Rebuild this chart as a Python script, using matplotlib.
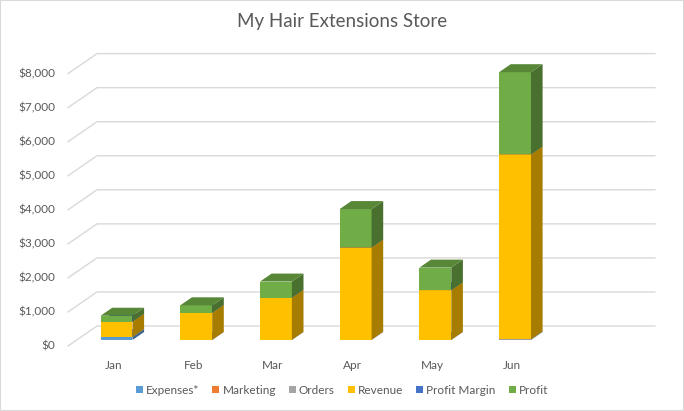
import numpy as np
import matplotlib.pyplot as plt
from matplotlib.patches import Polygon, Rectangle, Patch
from matplotlib.colors import to_rgb

plt.rcParams['font.family'] = ['Lato', 'DejaVu Sans']

months = ["Jan", "Feb", "Mar", "Apr", "May", "Jun"]
expenses = [85, 0, 0, 0, 0, 0]
marketing = [0, 0, 0, 0, 0, 0]
orders = [3, 4, 6, 10, 6, 25]
revenue = [455, 800, 1240, 2710, 1460, 5430]
profit_margin = [0.2, 0.2, 0.3, 0.3, 0.3, 0.3]
profit = [170, 215, 470, 1125, 660, 2410]

series_names = ["Expenses*", "Marketing", "Orders", "Revenue", "Profit Margin", "Profit"]
series_vals = [expenses, marketing, orders, revenue, profit_margin, profit]
colors = ["#5B9BD5", "#ED7D31", "#A5A5A5", "#FFC000", "#4472C4", "#70AD47"]
yticks = np.arange(0, 8001, 1000)

n_slots = 7          # excel leaves one empty slot on the right
DX, DY = 0.364, 587  # floor depth (category units, dollars)
F0, BD = 0.3, 0.4    # bar starts 30% into the floor, 40% deep
W = 0.40
txt = "#595959"
grid = "#d9d9d9"


def shade(c, f):
    return tuple(v * f for v in to_rgb(c))


fig = plt.figure(figsize=(6.84, 4.11), dpi=100)
ax = fig.add_axes([0, 0, 1, 1])
ax.set_xlim(-68 / 79.7, (684 - 68) / 79.7)
ax.set_ylim(-(411 - 346) / 0.03405, 346 / 0.03405)
ax.axis("off")

# walls
for v in yticks:
    ax.plot([0, DX, DX + n_slots], [v, v + DY, v + DY], color=grid, lw=1, zorder=0)
    ax.text(-0.163, v, "${:,}".format(v), ha="right", va="center", fontsize=8.5, color=txt)

# 3d-ish stacked columns
for i, m in enumerate(months):
    base = 0
    for vals, c in zip(series_vals, colors):
        v = vals[i]
        if v <= 0:
            continue
        x0 = i + 0.5 - W / 2 + F0 * DX
        y0 = F0 * DY + base
        y1 = y0 + v
        ox, oy = BD * DX, BD * DY
        ax.add_patch(Rectangle((x0, y0), W, v, facecolor=c, lw=0, zorder=2))
        ax.add_patch(Polygon([(x0 + W, y0), (x0 + W + ox, y0 + oy),
                              (x0 + W + ox, y1 + oy), (x0 + W, y1)],
                             closed=True, facecolor=shade(c, 0.65), lw=0, zorder=2))
        ax.add_patch(Polygon([(x0, y1), (x0 + W, y1), (x0 + W + ox, y1 + oy),
                              (x0 + ox, y1 + oy)],
                             closed=True, facecolor=shade(c, 0.78), lw=0, zorder=2))
        base += v
    ax.text(i + 0.57, -560, m, ha="center", va="center", fontsize=8.5, color=txt)

fig.text(0.5, 1 - 21 / 411, "My Hair Extensions Store", ha="center", va="center",
         fontsize=13.5, color=txt)

handles = [Patch(facecolor=c, label=n) for n, c in zip(series_names, colors)]
fig.legend(handles=handles, loc="center", bbox_to_anchor=(0.5, 1 - 390 / 411), ncol=6,
           frameon=False, fontsize=8.5, handlelength=0.6, handleheight=0.6,
           handletextpad=0.25, columnspacing=1.1, labelcolor=txt)

fig.patches.append(Rectangle((0, 0), 1, 1, transform=fig.transFigure, fill=False,
                             edgecolor=grid, lw=1.5))

fig.savefig("out.png", dpi=100)
